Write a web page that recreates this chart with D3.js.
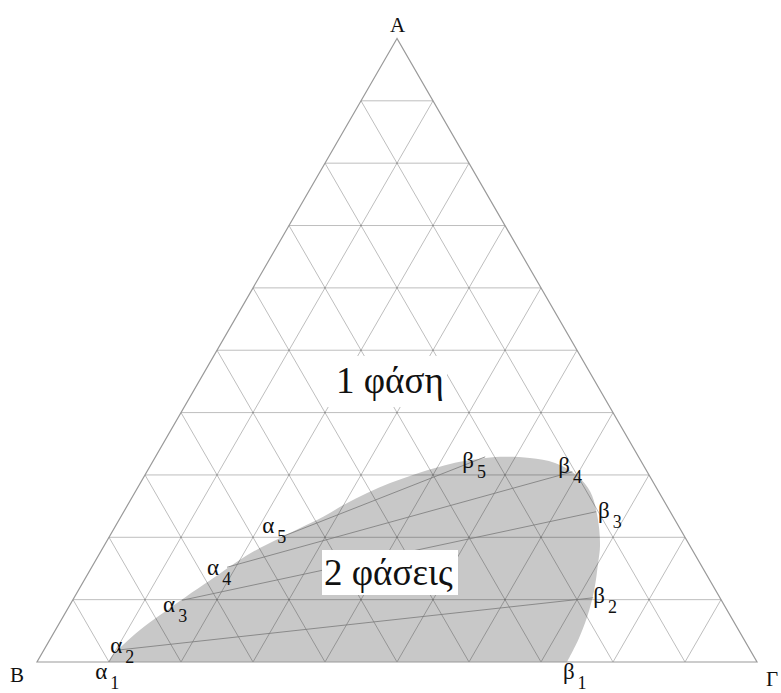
<!DOCTYPE html>
<html>
<head>
<meta charset="utf-8">
<script src="https://cdn.jsdelivr.net/npm/d3@7"></script>
<style>
  body { margin: 0; background: #fff; }
  svg { display: block; }
  svg text { font-family: "Liberation Serif", "Times New Roman", "DejaVu Serif", "Noto Serif", serif; }
</style>
</head>
<body>
<svg id="chart" width="781" height="693"></svg>
<script>
// vertex names (top, bottom-left, bottom-right)
const vertexNames = ['A', 'B', 'Γ'];
// grid every 10 %
const gridSteps = d3.range(1, 10).map(k => k / 10);

// binodal curve: fraction of A and fraction of Γ, from α1 round to β1
const binodalA = [0, 0.010, 0.030, 0.051, 0.075, 0.104, 0.131, 0.164, 0.183, 0.199, 0.215, 0.233, 0.253,
                  0.271, 0.287, 0.300, 0.313, 0.321, 0.326, 0.329, 0.327, 0.319, 0.298, 0.273, 0.236,
                  0.188, 0.156, 0.116, 0.072, 0.035, 0];
const binodalC = [0.099, 0.099, 0.107, 0.117, 0.133, 0.154, 0.175, 0.200, 0.218, 0.238, 0.258, 0.281, 0.301,
                  0.323, 0.347, 0.372, 0.403, 0.427, 0.453, 0.479, 0.521, 0.560, 0.602, 0.632, 0.660,
                  0.688, 0.701, 0.716, 0.728, 0.734, 0.736];

// tie lines α_i – β_i  (A fraction, Γ fraction)
const tieNames = ['1', '2', '3', '4', '5'];
const alphaA = [0, 0.019, 0.099, 0.152, 0.201];
const alphaC = [0.099, 0.102, 0.152, 0.188, 0.240];
const betaA  = [0, 0.103, 0.241, 0.305, 0.329];
const betaC  = [0.736, 0.721, 0.656, 0.591, 0.458];

const regionLabels = ['1 φάση', '2 φάσεις'];

document.addEventListener("DOMContentLoaded", function () {
  const svg = d3.select("#chart");

  // base runs along x, height of the triangle along y
  const x = d3.scaleLinear().domain([0, 1]).range([37, 757]);
  const y = d3.scaleLinear().domain([0, 1]).range([662, 662 - 720 * Math.sqrt(3) / 2]);

  // ternary -> pixel
  function proj(a, c) {
    return [x(c + a / 2), y(a)];
  }

  // two-phase region
  const boundary = binodalA.map((a, i) => proj(a, binodalC[i]));
  const curve = d3.line().curve(d3.curveCatmullRom.alpha(0.5));
  svg.append("path")
    .attr("d", curve(boundary) + "Z")
    .attr("fill", "#c8c8c8")
    .attr("stroke", "none");

  // grid lines, one family per side
  const grid = svg.append("g")
    .attr("stroke", "rgba(0,0,0,0.26)")
    .attr("stroke-width", 1)
    .attr("fill", "none");

  gridSteps.forEach(t => {
    // constant A
    grid.append("line").datum([proj(t, 0), proj(t, 1 - t)])
      .attr("x1", d => d[0][0]).attr("y1", d => d[0][1])
      .attr("x2", d => d[1][0]).attr("y2", d => d[1][1]);
    // constant Γ
    grid.append("line").datum([proj(0, t), proj(1 - t, t)])
      .attr("x1", d => d[0][0]).attr("y1", d => d[0][1])
      .attr("x2", d => d[1][0]).attr("y2", d => d[1][1]);
    // constant B
    grid.append("line").datum([proj(0, 1 - t), proj(1 - t, 0)])
      .attr("x1", d => d[0][0]).attr("y1", d => d[0][1])
      .attr("x2", d => d[1][0]).attr("y2", d => d[1][1]);
  });

  // triangle outline
  const corners = [proj(1, 0), proj(0, 0), proj(0, 1)];
  svg.append("path")
    .attr("d", d3.line()(corners) + "Z")
    .attr("fill", "none")
    .attr("stroke", "#9a9a9a")
    .attr("stroke-width", 1.2);

  // tie lines
  svg.append("g").selectAll("line")
    .data(tieNames.slice(1))
    .join("line")
    .attr("x1", (d, i) => proj(alphaA[i + 1], alphaC[i + 1])[0])
    .attr("y1", (d, i) => proj(alphaA[i + 1], alphaC[i + 1])[1])
    .attr("x2", (d, i) => proj(betaA[i + 1], betaC[i + 1])[0])
    .attr("y2", (d, i) => proj(betaA[i + 1], betaC[i + 1])[1])
    .attr("stroke", "#7a7a7a")
    .attr("stroke-width", 0.8);

  // vertex labels
  const vpos = [[proj(1, 0)[0] - 7, 32], [10, 682], [766, 686]];
  vertexNames.forEach((n, i) => {
    svg.append("text")
      .attr("x", vpos[i][0]).attr("y", vpos[i][1])
      .attr("font-size", 21)
      .attr("fill", "#111")
      .text(n);
  });

  // α / β labels, offsets from their point (glyph left, baseline)
  const alphaOff = [[-13, 17], [-7, 3], [-19, 12], [-20, 8], [-20, -4]];
  const betaOff  = [[-4, 17], [0, 5], [2, 6], [-14, 1], [-23, 11]];

  function subLabel(letter, p, off, num) {
    const t = svg.append("text")
      .attr("x", p[0] + off[0])
      .attr("y", p[1] + off[1])
      .attr("font-size", 23)
      .attr("fill", "#111");
    t.append("tspan").text(letter);
    t.append("tspan")
      .attr("dx", 3).attr("dy", 10)
      .attr("font-size", 18)
      .text(num);
  }

  tieNames.forEach((n, i) => {
    subLabel("α", proj(alphaA[i], alphaC[i]), alphaOff[i], n);
    subLabel("β", proj(betaA[i], betaC[i]), betaOff[i], n);
  });

  // region labels on white boxes
  const boxes = [
    { x: 327, y: 356, w: 120, h: 51, tx: 336, ty: 393 },
    { x: 322, y: 550, w: 136, h: 45, tx: 324, ty: 585 }
  ];
  regionLabels.forEach((lab, i) => {
    const b = boxes[i];
    svg.append("rect")
      .attr("x", b.x).attr("y", b.y)
      .attr("width", b.w).attr("height", b.h)
      .attr("fill", "#fff");
    svg.append("text")
      .attr("x", b.tx).attr("y", b.ty)
      .attr("font-size", 37)
      .attr("fill", "#111")
      .text(lab);
  });
});
</script>
</body>
</html>
